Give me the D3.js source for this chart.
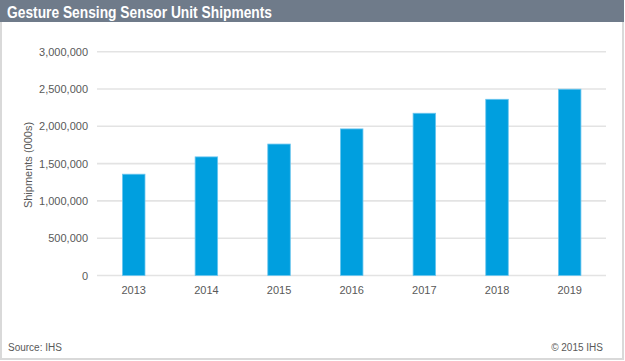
<!DOCTYPE html>
<html>
<head>
<meta charset="utf-8">
<script src="https://cdnjs.cloudflare.com/ajax/libs/d3/7.8.5/d3.min.js"></script>
<style>
html,body{margin:0;padding:0;background:#fff;}
svg{display:block;font-family:"Liberation Sans",Arial,sans-serif;}
</style>
</head>
<body>
<svg id="chart" width="625" height="361"></svg>
<script>
const years = ["2013","2014","2015","2016","2017","2018","2019"];
const shipments = [1358000, 1590000, 1762000, 1965000, 2175000, 2362000, 2497000];
const yTicks = [0, 500000, 1000000, 1500000, 2000000, 2500000, 3000000];
const title = "Gesture Sensing Sensor Unit Shipments";
const yTitle = "Shipments (000s)";
const sourceText = "Source: IHS";
const copyText = "\u00A9 2015 IHS";

const svg = d3.select("#chart");
const W = 625, H = 361;

// outer border
svg.append("rect").attr("x",1).attr("y",1).attr("width",622).attr("height",358)
  .attr("fill","#fff").attr("stroke","#d9d9d9").attr("stroke-width",2);
// title bar
svg.append("rect").attr("x",0).attr("y",0).attr("width",624).attr("height",22)
  .attr("fill","#6f7b8a");
svg.append("text").attr("x",7).attr("y",17.5).attr("fill","#fff")
  .attr("font-size",17).attr("font-weight","bold").attr("textLength",265)
  .attr("lengthAdjust","spacingAndGlyphs").text(title);

const x = d3.scaleBand().domain(years).range([97.4, 606]).paddingInner(0.69).paddingOuter(0.345);
const y = d3.scaleLinear().domain([0, 3000000]).range([275.5, 51.7]);

// gridlines
svg.append("g").selectAll("line").data(yTicks).join("line")
  .attr("x1",97).attr("x2",606)
  .attr("y1",d=>y(d)).attr("y2",d=>y(d))
  .attr("stroke","#e3e3e3").attr("stroke-width",1.6);

// y axis labels
const yAxis = d3.axisLeft(y).tickValues(yTicks).tickFormat(d3.format(",")).tickSize(0).tickPadding(0);
const gy = svg.append("g").attr("transform","translate(88,0)").call(yAxis);
gy.select(".domain").remove();
gy.selectAll("text").attr("font-size",11).attr("fill","#595959").attr("font-family","Liberation Sans, Arial, sans-serif");

// bars
svg.append("g").selectAll("rect").data(years).join("rect")
  .attr("x",(d)=>x(d)).attr("width",x.bandwidth())
  .attr("y",(d,i)=>y(shipments[i])).attr("height",(d,i)=>y(0)-y(shipments[i]))
  .attr("fill","#009fdf").attr("stroke","#6cc6ef").attr("stroke-width",0.8);

// x axis labels
const xAxis = d3.axisBottom(x).tickSize(0).tickPadding(0);
const gx = svg.append("g").attr("transform","translate(0,286)").call(xAxis);
gx.select(".domain").remove();
gx.selectAll("text").attr("font-size",11).attr("fill","#595959").attr("font-family","Liberation Sans, Arial, sans-serif");

// y title
svg.append("text").attr("transform","translate(32,165) rotate(-90)")
  .attr("text-anchor","middle").attr("font-size",11).attr("fill","#595959").text(yTitle);

// footer
svg.append("text").attr("x",8).attr("y",351).attr("font-size",10).attr("fill","#595959").text(sourceText);
svg.append("text").attr("x",603).attr("y",351).attr("text-anchor","end").attr("font-size",10).attr("fill","#595959").text(copyText);
</script>
</body>
</html>
